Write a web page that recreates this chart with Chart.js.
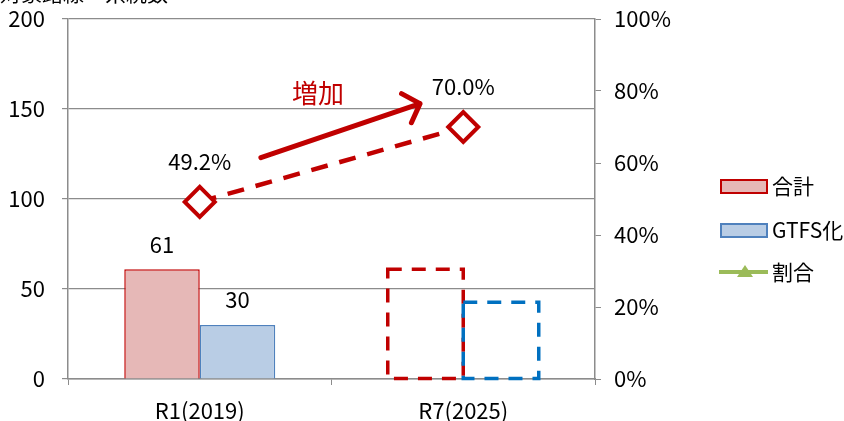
<!DOCTYPE html>
<html>
<head>
<meta charset="utf-8">
<script src="https://cdn.jsdelivr.net/npm/chart.js@4.4.1/dist/chart.umd.min.js"></script>
<style>
  html, body { margin: 0; padding: 0; background: #ffffff; }
  #wrap { width: 844px; height: 421px; position: relative; }
</style>
</head>
<body>
<div id="wrap"><canvas id="c" width="844" height="421"></canvas></div>
<script>
// ---- data ----
const categories   = ['R1(2019)', 'R7(2025)'];
const totalRoutes  = [61, 61];        // 合計
const gtfsRoutes   = [30, 42.7];      // GTFS化
const gtfsShare    = [49.2, 70.0];    // 割合 (%)
const projected    = [false, true];   // R7 is a target year: drawn dashed, no bar labels
const leftTicks    = [0, 50, 100, 150, 200];
const rightTicks   = [0, 20, 40, 60, 80, 100];
const seriesNames  = ['合計', 'GTFS化', '割合'];
const unitLabel    = '対象路線・系統数';
const trendLabel   = '増加';

// ---- styling ----
const FONT = "'Noto Sans CJK JP', 'Open Sans', sans-serif";
const GRID = '#8c8c8c';
const RED = '#c00000';
const TEXT = '#000000';
const TICK_SIZE = 22;

// keep the plot frame fixed regardless of tick label overhang
const fixVertical = width => s => {
  s.width = width;
  s.paddingTop = 0;
  s.paddingBottom = 0;
};

// dashed outlines for projected bars
const dashedBars = {
  id: 'dashedBars',
  afterDatasetsDraw(chart) {
    const ctx = chart.ctx;
    chart.data.datasets.forEach((ds, di) => {
      if (!ds.dashColor) return;
      chart.getDatasetMeta(di).data.forEach((bar, i) => {
        if (!projected[i]) return;
        const p = bar.getProps(['x', 'y', 'base', 'width'], true);
        ctx.save();
        ctx.strokeStyle = ds.dashColor;
        ctx.lineWidth = 3.5;
        ctx.setLineDash([14, 10]);
        ctx.strokeRect(p.x - p.width / 2, p.y, p.width, p.base - p.y);
        ctx.restore();
      });
    });
  }
};

// value labels above bars and points
const valueLabels = {
  id: 'valueLabels',
  afterDatasetsDraw(chart) {
    const ctx = chart.ctx;
    ctx.save();
    ctx.font = TICK_SIZE + 'px ' + FONT;
    ctx.fillStyle = TEXT;
    ctx.textAlign = 'center';
    ctx.textBaseline = 'middle';
    chart.data.datasets.forEach((ds, di) => {
      const meta = chart.getDatasetMeta(di);
      meta.data.forEach((el, i) => {
        if (ds.type === 'line') {
          ctx.fillText(ds.data[i].toFixed(1) + '%', el.x, el.y - 40);
        } else if (!projected[i]) {
          ctx.fillText(String(ds.data[i]), el.x, el.y - 25);
        }
      });
    });
    ctx.restore();
  }
};

// trend arrow with caption, unit caption, and legend
const annotations = {
  id: 'annotations',
  afterDraw(chart) {
    const ctx = chart.ctx;
    const xs = chart.scales.x, y1 = chart.scales.y1;
    const x0 = xs.getPixelForValue(0), x1 = xs.getPixelForValue(1);
    const px = f => x0 + (x1 - x0) * f;

    // arrow
    const sx = px(0.232), sy = y1.getPixelForValue(61.5);
    const tx = px(0.836), ty = y1.getPixelForValue(76.5);
    const ang = Math.atan2(ty - sy, tx - sx);
    const back = ang + Math.PI;
    const headLen = 21, spread = 47 * Math.PI / 180;
    ctx.save();
    ctx.strokeStyle = RED;
    ctx.lineWidth = 5;
    ctx.lineCap = 'round';
    ctx.lineJoin = 'round';
    ctx.beginPath();
    ctx.moveTo(sx, sy);
    ctx.lineTo(tx, ty);
    ctx.moveTo(tx + headLen * Math.cos(back + spread), ty + headLen * Math.sin(back + spread));
    ctx.lineTo(tx, ty);
    ctx.lineTo(tx + headLen * Math.cos(back - spread), ty + headLen * Math.sin(back - spread));
    ctx.stroke();

    ctx.fillStyle = RED;
    ctx.font = '26px ' + FONT;
    ctx.textAlign = 'center';
    ctx.textBaseline = 'middle';
    ctx.fillText(trendLabel, px(0.449), y1.getPixelForValue(79.5));

    // unit caption (runs off the top edge)
    ctx.fillStyle = TEXT;
    ctx.font = '21px ' + FONT;
    ctx.textAlign = 'left';
    ctx.textBaseline = 'alphabetic';
    ctx.fillText(unitLabel, 0, 1);

    // legend
    const lx = 721, tx0 = 772;
    ctx.font = '21px ' + FONT;
    ctx.textBaseline = 'middle';
    ctx.lineCap = 'butt';
    ctx.lineJoin = 'miter';
    // 合計
    ctx.fillStyle = '#e6b8b7';
    ctx.fillRect(lx, 180, 46, 13);
    ctx.strokeStyle = RED; ctx.lineWidth = 2;
    ctx.strokeRect(lx, 180, 46, 13);
    ctx.fillStyle = TEXT;
    ctx.fillText(seriesNames[0], tx0, 186.5);
    // GTFS化
    ctx.fillStyle = '#b9cde5';
    ctx.fillRect(lx, 224, 46, 13);
    ctx.strokeStyle = '#4f81bd'; ctx.lineWidth = 2;
    ctx.strokeRect(lx, 224, 46, 13);
    ctx.fillStyle = TEXT;
    ctx.fillText(seriesNames[1], tx0, 230.5);
    // 割合
    ctx.strokeStyle = '#9bbb59'; ctx.lineWidth = 4;
    ctx.beginPath(); ctx.moveTo(lx - 2, 272); ctx.lineTo(lx + 47, 272); ctx.stroke();
    ctx.fillStyle = '#9bbb59';
    ctx.beginPath();
    ctx.moveTo(lx + 24, 265); ctx.lineTo(lx + 32, 277); ctx.lineTo(lx + 16, 277);
    ctx.closePath(); ctx.fill();
    ctx.fillStyle = TEXT;
    ctx.fillText(seriesNames[2], tx0, 272.5);
    ctx.restore();
  }
};

new Chart(document.getElementById('c'), {
  type: 'bar',
  data: {
    labels: categories,
    datasets: [
      {
        label: seriesNames[0], data: totalRoutes, yAxisID: 'y', order: 2,
        backgroundColor: projected.map(p => p ? 'rgba(0,0,0,0)' : '#e6b8b7'),
        borderColor: projected.map(p => p ? 'rgba(0,0,0,0)' : RED),
        borderWidth: 1.5, dashColor: RED,
        categoryPercentage: 0.573, barPercentage: 1
      },
      {
        label: seriesNames[1], data: gtfsRoutes, yAxisID: 'y', order: 2,
        backgroundColor: projected.map(p => p ? 'rgba(0,0,0,0)' : '#b9cde5'),
        borderColor: projected.map(p => p ? 'rgba(0,0,0,0)' : '#4f81bd'),
        borderWidth: 1.5, dashColor: '#0070c0',
        categoryPercentage: 0.573, barPercentage: 1
      },
      {
        type: 'line', label: seriesNames[2], data: gtfsShare, yAxisID: 'y1', order: 0,
        borderColor: RED, borderWidth: 4.5, borderDash: [17, 12],
        pointStyle: 'rectRot', pointRadius: 15, pointHoverRadius: 15,
        pointBorderWidth: 4, pointBackgroundColor: '#ffffff', pointBorderColor: RED
      }
    ]
  },
  options: {
    responsive: false,
    animation: false,
    events: [],
    layout: { padding: { top: 18, left: 0, right: 0, bottom: 0 } },
    plugins: { legend: { display: false }, tooltip: { enabled: false } },
    scales: {
      x: {
        grid: { drawOnChartArea: false, color: GRID, tickLength: 6 },
        border: { color: GRID, width: 1.5 },
        ticks: { font: { family: FONT, size: TICK_SIZE }, color: TEXT, padding: 12 },
        afterFit: s => { s.height = 42; s.paddingLeft = 0; s.paddingRight = 0; }
      },
      y: {
        min: 0, max: 200,
        afterBuildTicks: s => { s.ticks = leftTicks.map(v => ({ value: v })); },
        grid: { color: GRID, tickLength: 6, lineWidth: 1.2 },
        border: { color: GRID, width: 1.5 },
        ticks: { font: { family: FONT, size: TICK_SIZE }, color: TEXT, padding: 17 },
        afterFit: fixVertical(68)
      },
      y1: {
        position: 'right', min: 0, max: 100,
        afterBuildTicks: s => { s.ticks = rightTicks.map(v => ({ value: v })); },
        grid: { drawOnChartArea: false, color: GRID, tickLength: 6 },
        border: { color: GRID, width: 1.5 },
        ticks: { font: { family: FONT, size: TICK_SIZE }, color: TEXT, padding: 13, callback: v => v + '%' },
        afterFit: fixVertical(249)
      }
    }
  },
  plugins: [dashedBars, valueLabels, annotations]
});
</script>
</body>
</html>
